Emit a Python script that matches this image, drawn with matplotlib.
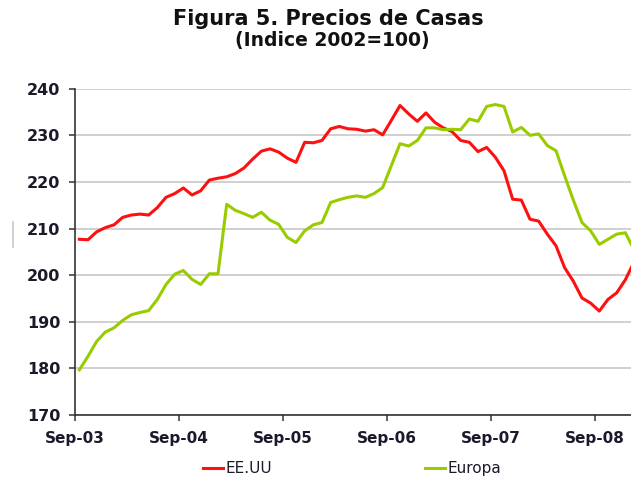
import matplotlib
matplotlib.use("Agg")
import matplotlib.pyplot as plt
import numpy as np

# monthly index values, Sep-03 onwards (one value per month)
eeuu = [207.7, 207.6, 209.3, 210.2, 210.8, 212.4, 212.9, 213.1, 212.9, 214.5,
        216.7, 217.5, 218.7, 217.2, 218.1, 220.4, 220.8, 221.1, 221.8, 223.0,
        224.9, 226.6, 227.1, 226.4, 225.1, 224.2, 228.5, 228.4, 228.9, 231.4,
        231.9, 231.4, 231.3, 230.9, 231.2, 230.1, 233.2, 236.4, 234.6, 233.0,
        234.8, 232.8, 231.6, 230.8, 228.9, 228.5, 226.5, 227.4, 225.3, 222.4,
        216.3, 216.1, 212.0, 211.6, 208.8, 206.3, 201.6, 198.7, 195.1, 194.0,
        192.3, 194.8, 196.2, 199.0, 202.8]
europa = [179.7, 182.6, 185.8, 187.8, 188.7, 190.3, 191.5, 192.0, 192.4, 194.8,
          198.0, 200.2, 201.0, 199.1, 198.0, 200.3, 200.3, 215.2, 213.9, 213.2,
          212.4, 213.5, 211.8, 210.9, 208.1, 207.0, 209.5, 210.8, 211.3, 215.6,
          216.2, 216.7, 217.0, 216.7, 217.5, 218.8, 223.5, 228.2, 227.7, 228.9,
          231.6, 231.6, 231.2, 231.3, 231.2, 233.5, 233.0, 236.2, 236.6, 236.2,
          230.7, 231.7, 230.0, 230.3, 227.8, 226.7, 221.3, 216.1, 211.3, 209.5,
          206.6, 207.7, 208.8, 209.1, 205.5]
tick_labels = ['Sep-03', 'Sep-04', 'Sep-05', 'Sep-06', 'Sep-07', 'Sep-08']
yticks = [170, 180, 190, 200, 210, 220, 230, 240]

# categories sit between tick marks, like the spreadsheet chart
x = np.arange(len(eeuu)) + 0.5

fig = plt.figure(figsize=(6.31, 4.80), dpi=100)
ax = fig.add_axes([0.1189, 0.1354, 0.8927, 0.6798])

ax.plot(x, eeuu, color='#ff1010', linewidth=2.2, label='EE.UU', solid_joinstyle='round')
ax.plot(x, europa, color='#99cc00', linewidth=2.2, label='Europa', solid_joinstyle='round')

ax.set_xlim(0, len(eeuu))
ax.set_ylim(170, 240)
ax.set_xticks(np.arange(0, 61, 12))
ax.set_xticklabels(tick_labels)
ax.set_yticks(yticks)
ax.yaxis.grid(True, color='#c4c4c4', linewidth=1.1)
ax.set_axisbelow(True)

for s in ['top', 'right']:
    ax.spines[s].set_visible(False)
for s in ['left', 'bottom']:
    ax.spines[s].set_color('#333333')
    ax.spines[s].set_linewidth(1.2)

ax.tick_params(axis='y', length=4.5, width=1.1, color='#333333', pad=6,
               labelsize=11.5, labelcolor='#1a1a2a')
ax.tick_params(axis='x', length=4.5, width=1.1, color='#333333', pad=7,
               labelsize=11, labelcolor='#1a1a2a')
for lbl in ax.get_xticklabels() + ax.get_yticklabels():
    lbl.set_fontweight('bold')

fig.text(0.52, 0.960, 'Figura 5. Precios de Casas', ha='center', va='center',
         fontsize=15, fontweight='bold', color='#111111')
fig.text(0.526, 0.916, '(Indice 2002=100)', ha='center', va='center',
         fontsize=13.5, fontweight='bold', color='#111111')

fig.legend(loc='center', bbox_to_anchor=(0.558, 0.023), ncol=2, frameon=False,
           fontsize=11, handlelength=1.3, handletextpad=0.15, columnspacing=10,
           labelcolor='#1a1a2a')

# small grey mark at the left edge of the original page
fig.add_artist(plt.Line2D([0.0206, 0.0206], [0.485, 0.5375], color='#c8c8c8', linewidth=1.2))

plt.savefig('out.png', dpi=100)
